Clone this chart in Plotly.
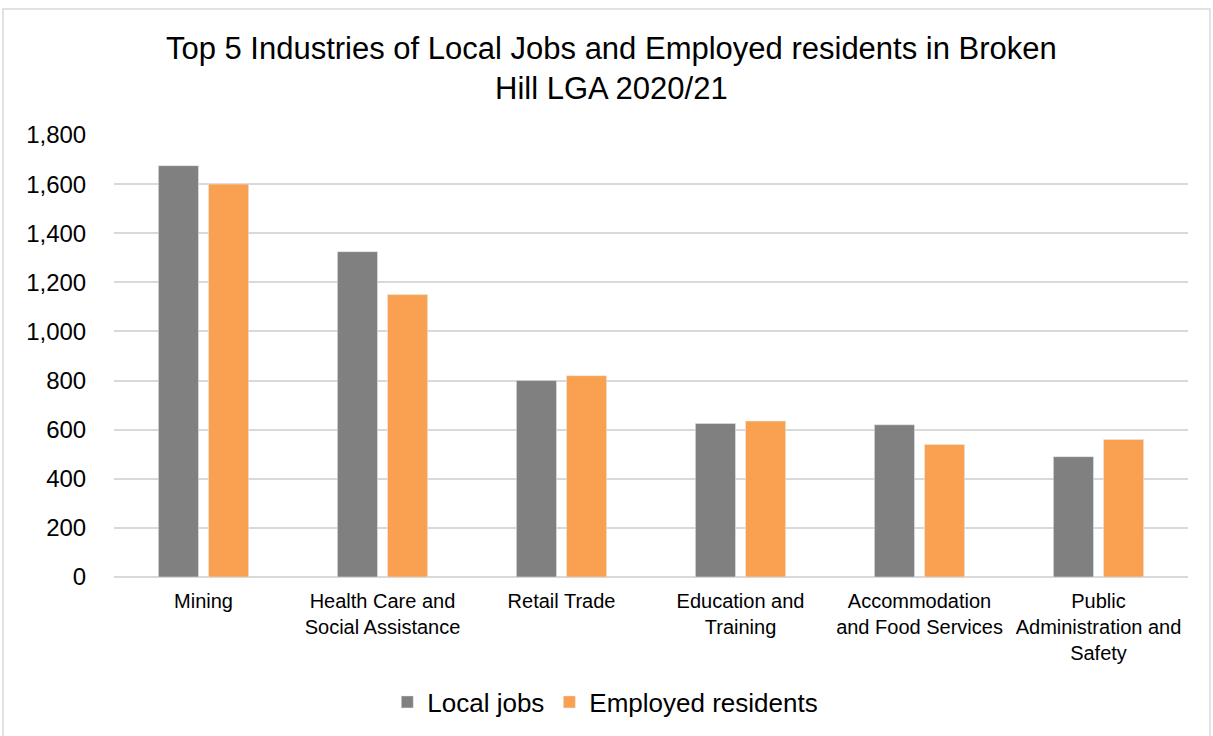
import plotly.graph_objects as go

categories = ["Mining", "Health Care and<br>Social Assistance", "Retail Trade",
              "Education and<br>Training", "Accommodation<br>and Food Services",
              "Public<br>Administration and<br>Safety"]
local_jobs = [1675, 1325, 800, 625, 620, 490]
employed_residents = [1600, 1150, 820, 635, 540, 560]
tick_vals = [0, 200, 400, 600, 800, 1000, 1200, 1400, 1600, 1800]
tick_text = ["0", "200", "400", "600", "800", "1,000", "1,200", "1,400", "1,600", "1,800"]

FONT = "Liberation Sans, Arial, sans-serif"
W, H = 1213, 736
ml, mr, mt, mb = 114, 25, 135, 159

fig = go.Figure()
fig.add_trace(go.Bar(name="Local jobs", x=categories, y=local_jobs, marker_color="#808080"))
fig.add_trace(go.Bar(name="Employed residents", x=categories, y=employed_residents, marker_color="#F9A150"))

pw = W - ml - mr
ph = H - mt - mb
fig.add_shape(type="rect", xref="paper", yref="paper",
              x0=(3 - ml) / pw, x1=(1210 - ml) / pw,
              y0=(H - mb - 760) / ph, y1=(H - mb - 9) / ph,
              line=dict(color="#d9d9d9", width=1.5), fillcolor="rgba(0,0,0,0)", layer="below")

fig.update_layout(
    width=W, height=H,
    margin=dict(l=ml, r=mr, t=mt, b=mb),
    paper_bgcolor="white", plot_bgcolor="white",
    barmode="group", bargap=0.44, bargroupgap=0.2,
    title=dict(text="Top 5 Industries of Local Jobs and Employed residents in Broken<br>Hill LGA 2020/21",
               x=0.504, xref="container", xanchor="center",
               y=1 - 59 / H, yref="container", yanchor="top",
               font=dict(family=FONT, size=31, color="#000000")),
    font=dict(family=FONT, color="#000000"),
    legend=dict(orientation="h", x=0.499, xref="container", xanchor="center",
                y=1 - 702 / H, yref="container", yanchor="middle",
                font=dict(family=FONT, size=26, color="#000000"),
                itemwidth=30, traceorder="normal"),
    xaxis=dict(tickfont=dict(family=FONT, size=20, color="#000000"),
               showline=False, ticks="outside", ticklen=6, tickcolor="rgba(0,0,0,0)", tickangle=0),
    yaxis=dict(range=[0, 1800], tickvals=tick_vals, ticktext=tick_text,
               tickfont=dict(family=FONT, size=24, color="#000000"),
               showgrid=True, gridcolor="#d9d9d9", gridwidth=1.5,
               zeroline=True, zerolinecolor="#d9d9d9", zerolinewidth=1.5,
               ticks="outside", ticklen=22, tickcolor="rgba(0,0,0,0)"),
)

fig.write_html("out.html")
